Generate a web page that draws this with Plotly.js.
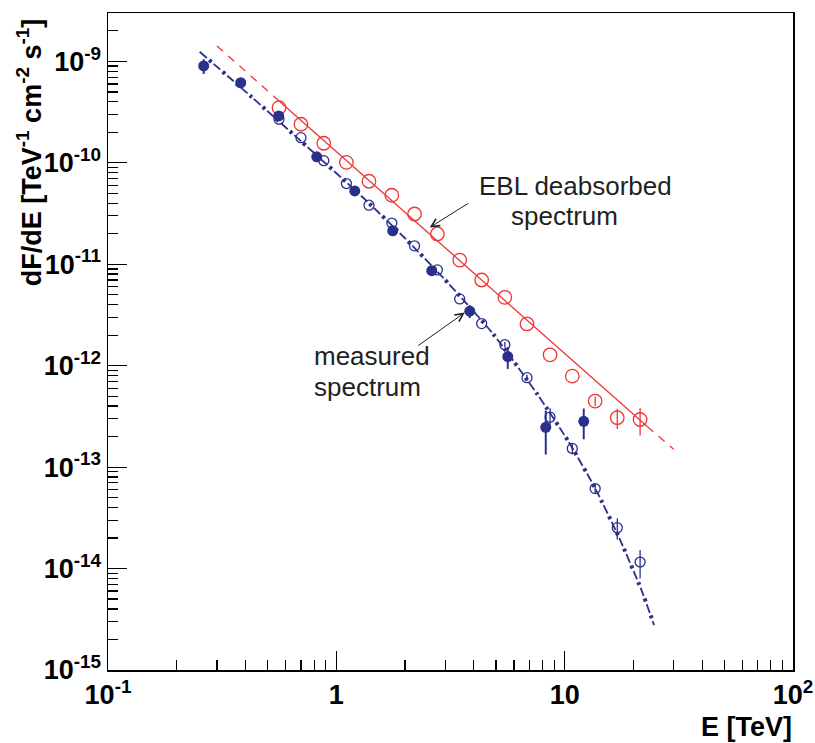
<!DOCTYPE html>
<html>
<head>
<meta charset="utf-8">
<script src="https://cdn.plot.ly/plotly-3.0.1.min.js"></script>
<style>html,body{margin:0;padding:0;background:#fff;}#chart{width:815px;height:743px;}</style>
</head>
<body>
<div id="chart"></div>
<script>
// ---- Data ----
// Measured spectrum, filled points (6 bins / decade)
const E_meas = [0.2625, 0.3813, 0.5595, 0.8208, 1.204, 1.766, 2.617, 3.840, 5.634, 8.264, 12.12];
const F_meas = [9.02e-10, 6.16e-10, 2.90e-10, 1.145e-10, 5.29e-11, 2.14e-11, 8.65e-12, 3.45e-12, 1.23e-12, 2.47e-13, 2.83e-13];
const dF_meas = [1.5e-10, 0.3e-10, 0.2e-10, 0.06e-10, 0.25e-11, 0.1e-11, 0.6e-12, 0.5e-12, 0.3e-12, 1.14e-13, 0.95e-13];

// Second measured set (open blue) and EBL-deabsorbed (open red), 10 bins / decade
const E_bins = [0.561, 0.700, 0.881, 1.107, 1.39, 1.75, 2.20, 2.77, 3.47, 4.33, 5.47, 6.84, 8.63, 10.8, 13.6, 17.0, 21.4];
const F_open = [2.69e-10, 1.77e-10, 1.05e-10, 6.25e-11, 3.82e-11, 2.55e-11, 1.52e-11, 8.79e-12, 4.55e-12, 2.60e-12, 1.61e-12, 7.62e-13, 3.11e-13, 1.53e-13, 6.14e-14, 2.53e-14, 1.16e-14];
const dF_open = [0, 0, 0, 0, 0, 0, 0, 0, 0, 0, 0.1e-12, 0.5e-13, 0.7e-13, 0.2e-13, 0.7e-14, 0.6e-14, 0.36e-14];
const F_ebl = [3.50e-10, 2.40e-10, 1.56e-10, 1.01e-10, 6.58e-11, 4.79e-11, 3.13e-11, 1.99e-11, 1.10e-11, 7.0e-12, 4.72e-12, 2.58e-12, 1.28e-12, 7.89e-13, 4.48e-13, 3.07e-13, 2.95e-13];
const dF_ebl = [0, 0, 0, 0, 0, 0, 0, 0, 0, 0, 0, 0, 0, 0, 0.5e-13, 0.7e-13, 0.9e-13];

// Fitted curves
const E_fit_meas = [0.252, 0.429, 0.752, 1.322, 1.993, 2.953, 4.858, 7.60, 10.35, 13.69, 17.43, 21.70, 24.64];
const F_fit_meas = [1.246e-9, 4.39e-10, 1.414e-10, 4.45e-11, 1.815e-11, 7.26e-12, 2.06e-12, 5.21e-13, 1.815e-13, 6.01e-14, 1.948e-14, 6.13e-15, 2.77e-15];
const E_fit_ebl = [0.30, 0.53, 23, 30];
const F_fit_ebl = [1.42e-9, 4.57e-10, 2.52e-13, 1.50e-13];

// Tick labels
const xTickVals = [0.1, 1, 10, 100];
const xTickText = ['10<sup>-1</sup>', '1', '10', '10<sup>2</sup>'];
const yTickVals = [1e-15, 1e-14, 1e-13, 1e-12, 1e-11, 1e-10, 1e-9];
const yTickText = ['10<sup>-15</sup>', '10<sup>-14</sup>', '10<sup>-13</sup>', '10<sup>-12</sup>', '10<sup>-11</sup>', '10<sup>-10</sup>', '10<sup>-9</sup>'];

// ---- Styles ----
const BLUE = 'rgb(43,48,140)';
const RED = 'rgb(240,52,52)';
const FONT = 'Liberation Sans, Arial, Helvetica, sans-serif';

const traces = [
  { x: E_bins, y: F_open, type: 'scatter', mode: 'markers', showlegend: false,
    marker: { symbol: 'circle', size: 10, color: 'rgba(255,255,255,0)', line: { color: BLUE, width: 1.3 } },
    error_y: { type: 'data', array: dF_open, visible: true, color: BLUE, thickness: 1.3, width: 0 } },
  { x: E_bins, y: F_ebl, type: 'scatter', mode: 'markers', showlegend: false,
    marker: { symbol: 'circle', size: 13.5, color: 'rgba(255,255,255,0)', line: { color: RED, width: 1.3 } },
    error_y: { type: 'data', array: dF_ebl, visible: true, color: RED, thickness: 1.3, width: 0 } },
  { x: E_meas, y: F_meas, type: 'scatter', mode: 'markers', showlegend: false,
    marker: { symbol: 'circle', size: 11, color: BLUE },
    error_y: { type: 'data', array: dF_meas, visible: true, color: BLUE, thickness: 2, width: 0 } },
  // EBL power law: dashed / solid / dashed
  { x: E_fit_ebl.slice(0, 2), y: F_fit_ebl.slice(0, 2), type: 'scatter', mode: 'lines', showlegend: false,
    line: { color: RED, width: 1.3, dash: '8px,7px' } },
  { x: E_fit_ebl.slice(1, 3), y: F_fit_ebl.slice(1, 3), type: 'scatter', mode: 'lines', showlegend: false,
    line: { color: RED, width: 1.3 } },
  { x: E_fit_ebl.slice(2, 4), y: F_fit_ebl.slice(2, 4), type: 'scatter', mode: 'lines', showlegend: false,
    line: { color: RED, width: 1.3, dash: '8px,7px' } },
  // Measured fit: dash + dot pattern built from two strokes
  { x: E_fit_meas, y: F_fit_meas, type: 'scatter', mode: 'lines', showlegend: false,
    line: { color: BLUE, width: 1.8, dash: '9px,9px', shape: 'spline', smoothing: 0.6 } },
  { x: E_fit_meas, y: F_fit_meas, type: 'scatter', mode: 'lines', showlegend: false,
    line: { color: BLUE, width: 4, dash: '0px,12px,3px,3px', shape: 'spline', smoothing: 0.6 } }
];

const axisCommon = {
  type: 'log', showgrid: false, zeroline: false,
  showline: true, mirror: true, linecolor: 'black', linewidth: 1.5,
  ticks: 'inside', ticklen: 19, tickwidth: 1.2, tickcolor: 'black',
  tickmode: 'array',
  tickfont: { family: FONT, size: 27, color: 'black', weight: 'bold' },
  minor: { ticks: 'inside', ticklen: 10, tickwidth: 1.2, tickcolor: 'black', dtick: 'D1', showgrid: false }
};

const layout = {
  width: 815, height: 743,
  margin: { l: 108, r: 22, t: 13, b: 73, pad: 0 },
  paper_bgcolor: 'white', plot_bgcolor: 'white',
  font: { family: FONT, color: 'black' },
  xaxis: Object.assign({}, axisCommon, { range: [-1, 2], tickvals: xTickVals, ticktext: xTickText }),
  yaxis: Object.assign({}, axisCommon, { range: [-15, Math.log10(3e-9)], tickvals: yTickVals, ticktext: yTickText }),
  annotations: [
    { xref: 'paper', yref: 'paper', x: 1.002, y: -0.086, xanchor: 'right', yanchor: 'middle', showarrow: false,
      text: 'E [TeV]', font: { family: FONT, size: 27, weight: 'bold', color: 'black' } },
    { xref: 'paper', yref: 'paper', x: -0.1143, y: 0.7877, xanchor: 'center', yanchor: 'middle', showarrow: false,
      textangle: -90,
      text: 'dF/dE [TeV<sup>-1</sup> cm<sup>-2</sup> s<sup>-1</sup>]', font: { family: FONT, size: 27, weight: 'bold', color: 'black' } },
    { xref: 'paper', yref: 'paper', x: 0.5383, y: 0.7362, xanchor: 'left', yanchor: 'middle', showarrow: false,
      text: 'EBL deabsorbed', font: { family: FONT, size: 26, color: '#231f20' } },
    { xref: 'paper', yref: 'paper', x: 0.5850, y: 0.6906, xanchor: 'left', yanchor: 'middle', showarrow: false,
      text: 'spectrum', font: { family: FONT, size: 26, color: '#231f20' } },
    { xref: 'paper', yref: 'paper', x: 0.2974, y: 0.4775, xanchor: 'left', yanchor: 'middle', showarrow: false,
      text: 'measured', font: { family: FONT, size: 26, color: '#231f20' } },
    { xref: 'paper', yref: 'paper', x: 0.2974, y: 0.4303, xanchor: 'left', yanchor: 'middle', showarrow: false,
      text: 'spectrum', font: { family: FONT, size: 26, color: '#231f20' } },
    // arrows
    { xref: 'x', yref: 'y', x: 0.4091, y: -10.6368, ax: 40, ay: -25, text: ' ', showarrow: true,
      arrowhead: 5, arrowsize: 1.6, arrowwidth: 1, arrowcolor: '#231f20', standoff: 0, font: { size: 1 } },
    { xref: 'x', yref: 'y', x: 0.5624, y: -11.4764, ax: -48, ay: 34, text: ' ', showarrow: true,
      arrowhead: 5, arrowsize: 1.6, arrowwidth: 1, arrowcolor: '#231f20', standoff: 0, font: { size: 1 } }
  ]
};

Plotly.newPlot('chart', traces, layout, { displayModeBar: false, staticPlot: true });
</script>
</body>
</html>
